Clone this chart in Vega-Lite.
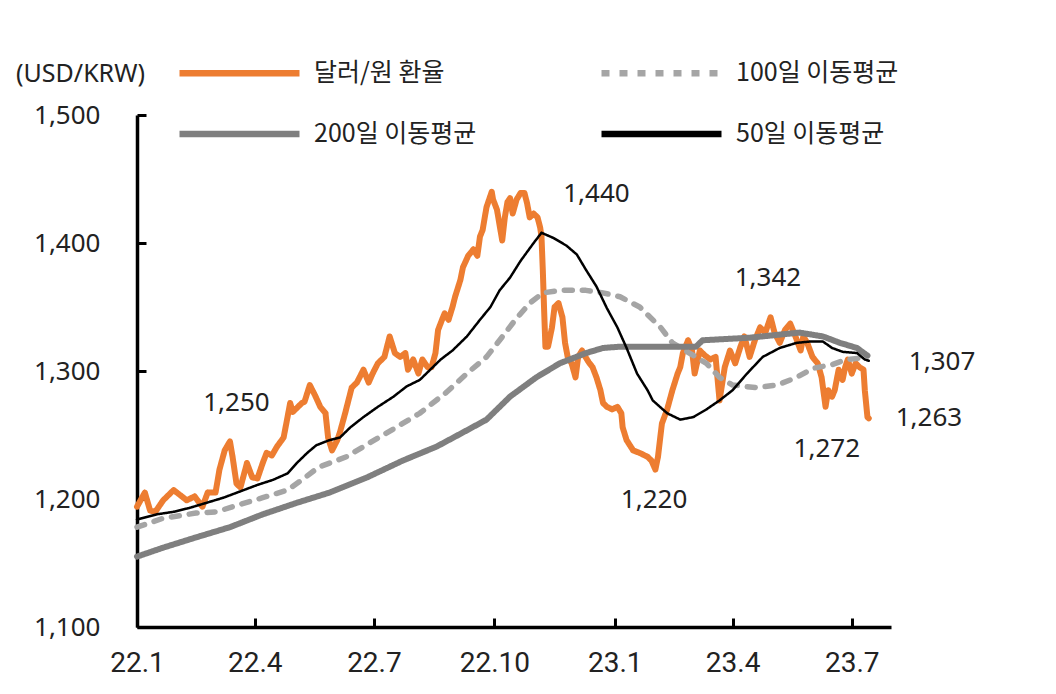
{
  "$schema": "https://vega.github.io/schema/vega-lite/v6.json",
  "width": 754,
  "height": 512,
  "autosize": {"type": "none"},
  "padding": {"left": 137, "top": 115, "right": 165, "bottom": 67},
  "background": "white",
  "config": {
    "view": {"stroke": null},
    "font": "Noto Sans",
    "axis": {"grid": false},
    "legend": {
      "orient": "none",
      "legendX": 90,
      "legendY": -54.5,
      "columns": 2,
      "columnPadding": 111,
      "rowPadding": 34,
      "padding": 0,
      "symbolType": "M-10,0H10",
      "symbolSize": 144,
      "symbolStrokeWidth": 6.5,
      "labelOffset": 62,
      "labelFont": "Noto Sans CJK KR",
      "labelFontSize": 25,
      "labelColor": "#222222",
      "labelLimit": 400
    }
  },
  "layer": [
    {
      "data": {"values": [
        {"s":"달러/원 환율","d":"2022-01-01","v":1194},{"s":"달러/원 환율","d":"2022-01-07","v":1205},{"s":"달러/원 환율","d":"2022-01-11","v":1191},{"s":"달러/원 환율","d":"2022-01-15","v":1190},{"s":"달러/원 환율","d":"2022-01-21","v":1199},{"s":"달러/원 환율","d":"2022-01-29","v":1207},{"s":"달러/원 환율","d":"2022-02-03","v":1203},{"s":"달러/원 환율","d":"2022-02-08","v":1199},{"s":"달러/원 환율","d":"2022-02-14","v":1202},{"s":"달러/원 환율","d":"2022-02-20","v":1194},{"s":"달러/원 환율","d":"2022-02-24","v":1205},{"s":"달러/원 환율","d":"2022-03-02","v":1205},{"s":"달러/원 환율","d":"2022-03-05","v":1223},{"s":"달러/원 환율","d":"2022-03-09","v":1238},{"s":"달러/원 환율","d":"2022-03-13","v":1245},{"s":"달러/원 환율","d":"2022-03-15","v":1233},{"s":"달러/원 환율","d":"2022-03-18","v":1212},{"s":"달러/원 환율","d":"2022-03-21","v":1209},{"s":"달러/원 환율","d":"2022-03-26","v":1228},{"s":"달러/원 환율","d":"2022-03-30","v":1217},{"s":"달러/원 환율","d":"2022-04-03","v":1216},{"s":"달러/원 환율","d":"2022-04-07","v":1228},{"s":"달러/원 환율","d":"2022-04-10","v":1236},{"s":"달러/원 환율","d":"2022-04-14","v":1234},{"s":"달러/원 환율","d":"2022-04-18","v":1241},{"s":"달러/원 환율","d":"2022-04-23","v":1248},{"s":"달러/원 환율","d":"2022-04-26","v":1264},{"s":"달러/원 환율","d":"2022-04-28","v":1275},{"s":"달러/원 환율","d":"2022-04-30","v":1268},{"s":"달러/원 환율","d":"2022-05-03","v":1271},{"s":"달러/원 환율","d":"2022-05-07","v":1275},{"s":"달러/원 환율","d":"2022-05-09","v":1276},{"s":"달러/원 환율","d":"2022-05-13","v":1289},{"s":"달러/원 환율","d":"2022-05-17","v":1281},{"s":"달러/원 환율","d":"2022-05-21","v":1272},{"s":"달러/원 환율","d":"2022-05-25","v":1267},{"s":"달러/원 환율","d":"2022-05-27","v":1248},{"s":"달러/원 환율","d":"2022-05-30","v":1238},{"s":"달러/원 환율","d":"2022-06-03","v":1246},{"s":"달러/원 환율","d":"2022-06-05","v":1252},{"s":"달러/원 환율","d":"2022-06-09","v":1267},{"s":"달러/원 환율","d":"2022-06-14","v":1287},{"s":"달러/원 환율","d":"2022-06-18","v":1291},{"s":"달러/원 환율","d":"2022-06-23","v":1301},{"s":"달러/원 환율","d":"2022-06-27","v":1291},{"s":"달러/원 환율","d":"2022-06-30","v":1298},{"s":"달러/원 환율","d":"2022-07-04","v":1306},{"s":"달러/원 환율","d":"2022-07-09","v":1311},{"s":"달러/원 환율","d":"2022-07-13","v":1327},{"s":"달러/원 환율","d":"2022-07-17","v":1314},{"s":"달러/원 환율","d":"2022-07-21","v":1311},{"s":"달러/원 환율","d":"2022-07-25","v":1314},{"s":"달러/원 환율","d":"2022-07-27","v":1301},{"s":"달러/원 환율","d":"2022-07-31","v":1309},{"s":"달러/원 환율","d":"2022-08-04","v":1298},{"s":"달러/원 환율","d":"2022-08-07","v":1309},{"s":"달러/원 환율","d":"2022-08-11","v":1303},{"s":"달러/원 환율","d":"2022-08-14","v":1303},{"s":"달러/원 환율","d":"2022-08-17","v":1314},{"s":"달러/원 환율","d":"2022-08-19","v":1332},{"s":"달러/원 환율","d":"2022-08-22","v":1340},{"s":"달러/원 환율","d":"2022-08-24","v":1345},{"s":"달러/원 환율","d":"2022-08-27","v":1340},{"s":"달러/원 환율","d":"2022-08-30","v":1350},{"s":"달러/원 환율","d":"2022-09-01","v":1358},{"s":"달러/원 환율","d":"2022-09-05","v":1371},{"s":"달러/원 환율","d":"2022-09-07","v":1381},{"s":"달러/원 환율","d":"2022-09-11","v":1390},{"s":"달러/원 환율","d":"2022-09-15","v":1395},{"s":"달러/원 환율","d":"2022-09-18","v":1390},{"s":"달러/원 환율","d":"2022-09-20","v":1405},{"s":"달러/원 환율","d":"2022-09-22","v":1410},{"s":"달러/원 환율","d":"2022-09-25","v":1428},{"s":"달러/원 환율","d":"2022-09-28","v":1437},{"s":"달러/원 환율","d":"2022-09-29","v":1440},{"s":"달러/원 환율","d":"2022-09-30","v":1434},{"s":"달러/원 환율","d":"2022-10-03","v":1426},{"s":"달러/원 환율","d":"2022-10-07","v":1402},{"s":"달러/원 환율","d":"2022-10-09","v":1420},{"s":"달러/원 환율","d":"2022-10-11","v":1432},{"s":"달러/원 환율","d":"2022-10-13","v":1435},{"s":"달러/원 환율","d":"2022-10-15","v":1423},{"s":"달러/원 환율","d":"2022-10-18","v":1434},{"s":"달러/원 환율","d":"2022-10-21","v":1439},{"s":"달러/원 환율","d":"2022-10-24","v":1439},{"s":"달러/원 환율","d":"2022-10-26","v":1431},{"s":"달러/원 환율","d":"2022-10-28","v":1420},{"s":"달러/원 환율","d":"2022-10-31","v":1423},{"s":"달러/원 환율","d":"2022-11-03","v":1420},{"s":"달러/원 환율","d":"2022-11-05","v":1412},{"s":"달러/원 환율","d":"2022-11-06","v":1405},{"s":"달러/원 환율","d":"2022-11-07","v":1379},{"s":"달러/원 환율","d":"2022-11-08","v":1348},{"s":"달러/원 환율","d":"2022-11-09","v":1319},{"s":"달러/원 환율","d":"2022-11-11","v":1319},{"s":"달러/원 환율","d":"2022-11-14","v":1334},{"s":"달러/원 환율","d":"2022-11-16","v":1350},{"s":"달러/원 환율","d":"2022-11-19","v":1353},{"s":"달러/원 환율","d":"2022-11-22","v":1342},{"s":"달러/원 환율","d":"2022-11-24","v":1322},{"s":"달러/원 환율","d":"2022-11-26","v":1311},{"s":"달러/원 환율","d":"2022-11-29","v":1306},{"s":"달러/원 환율","d":"2022-12-02","v":1295},{"s":"달러/원 환율","d":"2022-12-04","v":1311},{"s":"달러/원 환율","d":"2022-12-07","v":1316},{"s":"달러/원 환율","d":"2022-12-09","v":1312},{"s":"달러/원 환율","d":"2022-12-12","v":1307},{"s":"달러/원 환율","d":"2022-12-15","v":1303},{"s":"달러/원 환율","d":"2022-12-18","v":1295},{"s":"달러/원 환율","d":"2022-12-21","v":1285},{"s":"달러/원 환율","d":"2022-12-23","v":1275},{"s":"달러/원 환율","d":"2022-12-26","v":1272},{"s":"달러/원 환율","d":"2022-12-30","v":1270},{"s":"달러/원 환율","d":"2023-01-03","v":1272},{"s":"달러/원 환율","d":"2023-01-06","v":1267},{"s":"달러/원 환율","d":"2023-01-07","v":1256},{"s":"달러/원 환율","d":"2023-01-10","v":1246},{"s":"달러/원 환율","d":"2023-01-15","v":1238},{"s":"달러/원 환율","d":"2023-01-20","v":1236},{"s":"달러/원 환율","d":"2023-01-26","v":1233},{"s":"달러/원 환율","d":"2023-01-29","v":1230},{"s":"달러/원 환율","d":"2023-02-01","v":1223},{"s":"달러/원 환율","d":"2023-02-03","v":1233},{"s":"달러/원 환율","d":"2023-02-06","v":1259},{"s":"달러/원 환율","d":"2023-02-10","v":1270},{"s":"달러/원 환율","d":"2023-02-14","v":1285},{"s":"달러/원 환율","d":"2023-02-18","v":1298},{"s":"달러/원 환율","d":"2023-02-20","v":1303},{"s":"달러/원 환율","d":"2023-02-22","v":1314},{"s":"달러/원 환율","d":"2023-02-26","v":1324},{"s":"달러/원 환율","d":"2023-03-01","v":1316},{"s":"달러/원 환율","d":"2023-03-03","v":1298},{"s":"달러/원 환율","d":"2023-03-07","v":1316},{"s":"달러/원 환율","d":"2023-03-11","v":1312},{"s":"달러/원 환율","d":"2023-03-15","v":1309},{"s":"달러/원 환율","d":"2023-03-19","v":1311},{"s":"달러/원 환율","d":"2023-03-22","v":1277},{"s":"달러/원 환율","d":"2023-03-26","v":1303},{"s":"달러/원 환율","d":"2023-03-30","v":1316},{"s":"달러/원 환율","d":"2023-04-03","v":1306},{"s":"달러/원 환율","d":"2023-04-07","v":1319},{"s":"달러/원 환율","d":"2023-04-10","v":1327},{"s":"달러/원 환율","d":"2023-04-14","v":1311},{"s":"달러/원 환율","d":"2023-04-18","v":1324},{"s":"달러/원 환율","d":"2023-04-22","v":1334},{"s":"달러/원 환율","d":"2023-04-26","v":1330},{"s":"달러/원 환율","d":"2023-04-30","v":1342},{"s":"달러/원 환율","d":"2023-05-03","v":1330},{"s":"달러/원 환율","d":"2023-05-07","v":1322},{"s":"달러/원 환율","d":"2023-05-11","v":1332},{"s":"달러/원 환율","d":"2023-05-15","v":1337},{"s":"달러/원 환율","d":"2023-05-19","v":1327},{"s":"달러/원 환율","d":"2023-05-23","v":1316},{"s":"달러/원 환율","d":"2023-05-25","v":1327},{"s":"달러/원 환율","d":"2023-05-28","v":1322},{"s":"달러/원 환율","d":"2023-06-01","v":1311},{"s":"달러/원 환율","d":"2023-06-05","v":1306},{"s":"달러/원 환율","d":"2023-06-08","v":1295},{"s":"달러/원 환율","d":"2023-06-11","v":1272},{"s":"달러/원 환율","d":"2023-06-13","v":1285},{"s":"달러/원 환율","d":"2023-06-16","v":1280},{"s":"달러/원 환율","d":"2023-06-18","v":1285},{"s":"달러/원 환율","d":"2023-06-21","v":1301},{"s":"달러/원 환율","d":"2023-06-24","v":1293},{"s":"달러/원 환율","d":"2023-06-26","v":1303},{"s":"달러/원 환율","d":"2023-06-28","v":1309},{"s":"달러/원 환율","d":"2023-07-01","v":1298},{"s":"달러/원 환율","d":"2023-07-04","v":1306},{"s":"달러/원 환율","d":"2023-07-07","v":1303},{"s":"달러/원 환율","d":"2023-07-10","v":1301},{"s":"달러/원 환율","d":"2023-07-11","v":1285},{"s":"달러/원 환율","d":"2023-07-13","v":1264},{"s":"달러/원 환율","d":"2023-07-14","v":1263},
        {"s":"100일 이동평균","d":"2022-01-01","v":1178},{"s":"100일 이동평균","d":"2022-01-21","v":1185},{"s":"100일 이동평균","d":"2022-02-15","v":1189},{"s":"100일 이동평균","d":"2022-03-03","v":1190},{"s":"100일 이동평균","d":"2022-03-18","v":1195},{"s":"100일 이동평균","d":"2022-04-07","v":1201},{"s":"100일 이동평균","d":"2022-04-26","v":1207},{"s":"100일 이동평균","d":"2022-05-07","v":1215},{"s":"100일 이동평균","d":"2022-05-20","v":1225},{"s":"100일 이동평균","d":"2022-06-10","v":1233},{"s":"100일 이동평균","d":"2022-06-28","v":1244},{"s":"100일 이동평균","d":"2022-07-18","v":1256},{"s":"100일 이동평균","d":"2022-08-05","v":1267},{"s":"100일 이동평균","d":"2022-08-25","v":1283},{"s":"100일 이동평균","d":"2022-09-10","v":1298},{"s":"100일 이동평균","d":"2022-09-25","v":1311},{"s":"100일 이동평균","d":"2022-10-05","v":1324},{"s":"100일 이동평균","d":"2022-10-17","v":1340},{"s":"100일 이동평균","d":"2022-10-28","v":1353},{"s":"100일 이동평균","d":"2022-11-07","v":1361},{"s":"100일 이동평균","d":"2022-11-20","v":1363},{"s":"100일 이동평균","d":"2022-12-10","v":1363},{"s":"100일 이동평균","d":"2022-12-23","v":1361},{"s":"100일 이동평균","d":"2023-01-05","v":1358},{"s":"100일 이동평균","d":"2023-01-20","v":1350},{"s":"100일 이동평균","d":"2023-02-05","v":1334},{"s":"100일 이동평균","d":"2023-02-14","v":1322},{"s":"100일 이동평균","d":"2023-02-27","v":1314},{"s":"100일 이동평균","d":"2023-03-12","v":1306},{"s":"100일 이동평균","d":"2023-03-22","v":1295},{"s":"100일 이동평균","d":"2023-04-01","v":1289},{"s":"100일 이동평균","d":"2023-04-19","v":1287},{"s":"100일 이동평균","d":"2023-05-05","v":1289},{"s":"100일 이동평균","d":"2023-05-20","v":1295},{"s":"100일 이동평균","d":"2023-06-01","v":1302},{"s":"100일 이동평균","d":"2023-06-16","v":1305},{"s":"100일 이동평균","d":"2023-06-27","v":1309},{"s":"100일 이동평균","d":"2023-07-07","v":1310},{"s":"100일 이동평균","d":"2023-07-13","v":1311},
        {"s":"200일 이동평균","d":"2022-01-01","v":1155},{"s":"200일 이동평균","d":"2022-01-21","v":1162},{"s":"200일 이동평균","d":"2022-02-15","v":1170},{"s":"200일 이동평균","d":"2022-03-13","v":1178},{"s":"200일 이동평균","d":"2022-04-07","v":1188},{"s":"200일 이동평균","d":"2022-05-03","v":1197},{"s":"200일 이동평균","d":"2022-05-28","v":1205},{"s":"200일 이동평균","d":"2022-06-26","v":1217},{"s":"200일 이동평균","d":"2022-07-23","v":1230},{"s":"200일 이동평균","d":"2022-08-18","v":1241},{"s":"200일 이동평균","d":"2022-09-07","v":1252},{"s":"200일 이동평균","d":"2022-09-25","v":1262},{"s":"200일 이동평균","d":"2022-10-13","v":1280},{"s":"200일 이동평균","d":"2022-11-02","v":1295},{"s":"200일 이동평균","d":"2022-11-20","v":1306},{"s":"200일 이동평균","d":"2022-12-10","v":1314},{"s":"200일 이동평균","d":"2022-12-23","v":1318},{"s":"200일 이동평균","d":"2023-01-05","v":1319},{"s":"200일 이동평균","d":"2023-03-04","v":1319},{"s":"200일 이동평균","d":"2023-03-09","v":1324},{"s":"200일 이동평균","d":"2023-04-14","v":1326},{"s":"200일 이동평균","d":"2023-05-22","v":1330},{"s":"200일 이동평균","d":"2023-06-09","v":1327},{"s":"200일 이동평균","d":"2023-06-22","v":1322},{"s":"200일 이동평균","d":"2023-07-05","v":1318},{"s":"200일 이동평균","d":"2023-07-13","v":1312},
        {"s":"50일 이동평균","d":"2022-01-01","v":1184},{"s":"50일 이동평균","d":"2022-01-16","v":1188},{"s":"50일 이동평균","d":"2022-01-29","v":1190},{"s":"50일 이동평균","d":"2022-02-10","v":1193},{"s":"50일 이동평균","d":"2022-02-23","v":1197},{"s":"50일 이동평균","d":"2022-03-08","v":1201},{"s":"50일 이동평균","d":"2022-03-21","v":1206},{"s":"50일 이동평균","d":"2022-04-03","v":1211},{"s":"50일 이동평균","d":"2022-04-15","v":1215},{"s":"50일 이동평균","d":"2022-04-26","v":1220},{"s":"50일 이동평균","d":"2022-05-03","v":1228},{"s":"50일 이동평균","d":"2022-05-11","v":1236},{"s":"50일 이동평균","d":"2022-05-18","v":1242},{"s":"50일 이동평균","d":"2022-05-28","v":1246},{"s":"50일 이동평균","d":"2022-06-05","v":1248},{"s":"50일 이동평균","d":"2022-06-13","v":1256},{"s":"50일 이동평균","d":"2022-06-23","v":1264},{"s":"50일 이동평균","d":"2022-07-04","v":1272},{"s":"50일 이동평균","d":"2022-07-16","v":1280},{"s":"50일 이동평균","d":"2022-07-26","v":1288},{"s":"50일 이동평균","d":"2022-08-05","v":1293},{"s":"50일 이동평균","d":"2022-08-13","v":1301},{"s":"50일 이동평균","d":"2022-08-21","v":1309},{"s":"50일 이동평균","d":"2022-08-30","v":1316},{"s":"50일 이동평균","d":"2022-09-10","v":1327},{"s":"50일 이동평균","d":"2022-09-20","v":1340},{"s":"50일 이동평균","d":"2022-09-28","v":1350},{"s":"50일 이동평균","d":"2022-10-05","v":1363},{"s":"50일 이동평균","d":"2022-10-13","v":1373},{"s":"50일 이동평균","d":"2022-10-21","v":1386},{"s":"50일 이동평균","d":"2022-10-31","v":1400},{"s":"50일 이동평균","d":"2022-11-06","v":1408},{"s":"50일 이동평균","d":"2022-11-15","v":1404},{"s":"50일 이동평균","d":"2022-11-25","v":1398},{"s":"50일 이동평균","d":"2022-12-03","v":1391},{"s":"50일 이동평균","d":"2022-12-10","v":1379},{"s":"50일 이동평균","d":"2022-12-18","v":1366},{"s":"50일 이동평균","d":"2022-12-26","v":1349},{"s":"50일 이동평균","d":"2023-01-03","v":1334},{"s":"50일 이동평균","d":"2023-01-10","v":1318},{"s":"50일 이동평균","d":"2023-01-18","v":1298},{"s":"50일 이동평균","d":"2023-01-26","v":1285},{"s":"50일 이동평균","d":"2023-01-30","v":1277},{"s":"50일 이동평균","d":"2023-02-10","v":1267},{"s":"50일 이동평균","d":"2023-02-20","v":1262},{"s":"50일 이동평균","d":"2023-03-02","v":1264},{"s":"50일 이동평균","d":"2023-03-12","v":1270},{"s":"50일 이동평균","d":"2023-03-22","v":1277},{"s":"50일 이동평균","d":"2023-04-01","v":1285},{"s":"50일 이동평균","d":"2023-04-12","v":1298},{"s":"50일 이동평균","d":"2023-04-24","v":1311},{"s":"50일 이동평균","d":"2023-05-07","v":1318},{"s":"50일 이동평균","d":"2023-05-20","v":1322},{"s":"50일 이동평균","d":"2023-05-30","v":1323},{"s":"50일 이동평균","d":"2023-06-09","v":1323},{"s":"50일 이동평균","d":"2023-06-16","v":1318},{"s":"50일 이동평균","d":"2023-06-24","v":1315},{"s":"50일 이동평균","d":"2023-07-05","v":1314},{"s":"50일 이동평균","d":"2023-07-11","v":1309},{"s":"50일 이동평균","d":"2023-07-14","v":1308}
      ]},
      "mark": {"type": "line", "strokeCap": "round", "strokeJoin": "round"},
      "encoding": {
        "x": {
          "field": "d", "type": "temporal",
          "scale": {"type": "utc", "domain": [{"year": 2022, "month": 1, "date": 1, "utc": true}, {"year": 2023, "month": 7, "date": 31, "utc": true}]},
          "axis": {
            "title": null,
            "values": [
              {"year": 2022, "month": 1, "date": 1, "utc": true},
              {"year": 2022, "month": 4, "date": 1, "utc": true},
              {"year": 2022, "month": 7, "date": 1, "utc": true},
              {"year": 2022, "month": 10, "date": 1, "utc": true},
              {"year": 2023, "month": 1, "date": 1, "utc": true},
              {"year": 2023, "month": 4, "date": 1, "utc": true},
              {"year": 2023, "month": 7, "date": 1, "utc": true}
            ],
            "format": "%y.%-m",
            "labelFlush": false,
            "labelOverlap": false,
            "domainColor": "#000000",
            "domainWidth": 3.5,
            "tickColor": "#000000",
            "tickWidth": 3,
            "tickSize": -9,
            "labelPadding": 45,
            "labelBaseline": "middle",
            "labelFont": "Roboto",
            "labelFontSize": 28,
            "labelColor": "#222222"
          }
        },
        "y": {
          "field": "v", "type": "quantitative",
          "scale": {"domain": [1100, 1500]},
          "axis": {
            "values": [1100, 1200, 1300, 1400, 1500],
            "format": ",d",
            "title": "(USD/KRW)",
            "titleAngle": 0,
            "titleX": -57,
            "titleY": -42,
            "titleAlign": "center",
            "titleBaseline": "middle",
            "titleFont": "Noto Sans",
            "titleFontSize": 25,
            "titleFontWeight": "normal",
            "titleColor": "#222222",
            "domainColor": "#000000",
            "domainWidth": 3.5,
            "tickColor": "#000000",
            "tickWidth": 3,
            "tickSize": -9,
            "labelPadding": 46,
            "labelFont": "Noto Sans",
            "labelFontSize": 26,
            "labelColor": "#222222"
          }
        },
        "color": {
          "field": "s", "type": "nominal",
          "scale": {"domain": ["달러/원 환율", "200일 이동평균", "100일 이동평균", "50일 이동평균"], "range": ["#ED7D31", "#7F7F7F", "#A5A5A5", "#000000"]},
          "legend": {"title": null}
        },
        "strokeDash": {
          "field": "s", "type": "nominal",
          "scale": {"domain": ["달러/원 환율", "200일 이동평균", "100일 이동평균", "50일 이동평균"], "range": [[1, 0], [1, 0], [8, 10], [1, 0]]},
          "legend": {"title": null}
        },
        "strokeWidth": {
          "condition": [
            {"test": "datum.s === '50일 이동평균'", "value": 2.5},
            {"test": "datum.s === '100일 이동평균'", "value": 5.5}
          ],
          "value": 6
        }
      }
    },
    {
      "data": {"values": [
        {"d":"2022-03-18","v":1275,"t":"1,250"},
        {"d":"2022-12-18","v":1438,"t":"1,440"},
        {"d":"2023-04-28","v":1373,"t":"1,342"},
        {"d":"2023-01-31","v":1199,"t":"1,220"},
        {"d":"2023-06-12","v":1239,"t":"1,272"},
        {"d":"2023-09-08","v":1307,"t":"1,307"},
        {"d":"2023-08-29","v":1263,"t":"1,263"}
      ]},
      "mark": {"type": "text", "font": "Noto Sans", "fontSize": 26, "color": "#222222", "align": "center", "baseline": "middle"},
      "encoding": {
        "x": {"field": "d", "type": "temporal", "scale": {"type": "utc", "domain": [{"year": 2022, "month": 1, "date": 1, "utc": true}, {"year": 2023, "month": 7, "date": 31, "utc": true}]}},
        "y": {"field": "v", "type": "quantitative", "scale": {"domain": [1100, 1500]}},
        "text": {"field": "t"}
      }
    }
  ]
}
